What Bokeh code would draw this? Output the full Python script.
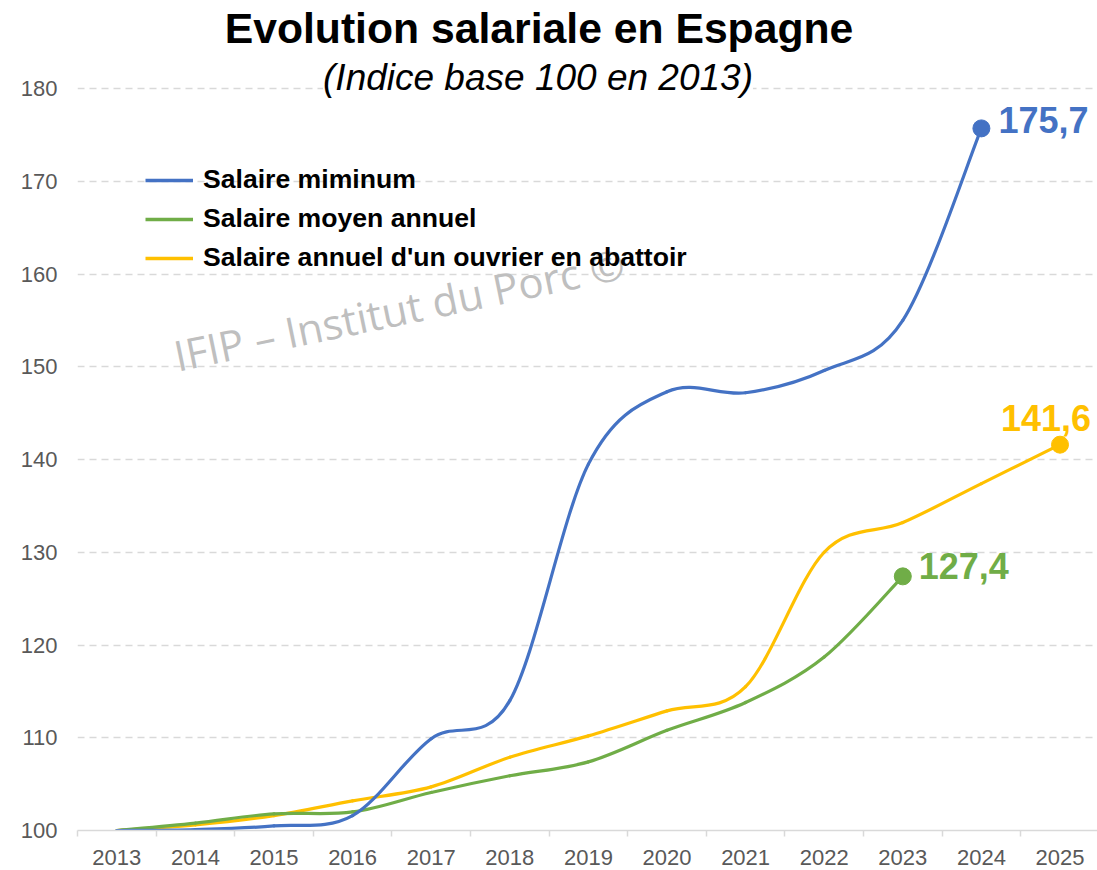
from bokeh.plotting import figure
from bokeh.models import Range1d, FixedTicker, Label, Legend, LegendItem
from bokeh.embed import file_html
from bokeh.resources import INLINE
from bokeh.core.properties import value

# ---------------- data ----------------
years = ["2013", "2014", "2015", "2016", "2017", "2018", "2019",
         "2020", "2021", "2022", "2023", "2024", "2025"]
salaire_minimum = [100.0, 100.1, 100.5, 101.6, 109.9, 114.0, 139.5,
                   147.3, 147.2, 149.6, 155.0, 175.7]
salaire_moyen = [100.0, 100.8, 101.8, 102.0, 104.1, 105.9, 107.4,
                 110.8, 113.8, 118.7, 127.4]
salaire_abattoir = [100.0, 100.6, 101.6, 103.2, 104.7, 107.9, 110.2,
                    112.9, 115.5, 130.0, 133.2, 137.4, 141.6]
series_names = ["Salaire miminum", "Salaire moyen annuel",
                "Salaire annuel d'un ouvrier en abattoir"]
series_colors = ["#4472C4", "#70AD47", "#FFC000"]
end_labels = ["175,7", "127,4", "141,6"]
y_ticks = [100, 110, 120, 130, 140, 150, 160, 170, 180]

FONT = "Liberation Sans"

# ---------------- layout ----------------
LEFT = 77
FRAME_W, FRAME_H = 1020, 830
PX_PER_CAT = 78.6
PX_PER_UNIT = 9.275
x_start = -0.5
x_end = x_start + FRAME_W / PX_PER_CAT
y_start = 100.0
y_end = y_start + FRAME_H / PX_PER_UNIT

p = figure(frame_width=FRAME_W, frame_height=FRAME_H,
           x_range=Range1d(x_start, x_end), y_range=Range1d(y_start, y_end),
           output_backend="svg", toolbar_location=None,
           min_border=0, min_border_left=LEFT, min_border_right=0,
           min_border_top=0, min_border_bottom=40,
           background_fill_color="white", border_fill_color="white")
p.outline_line_color = None


def px_x(px):  # page px -> x data (annotation placement only)
    return x_start + (px - LEFT) / PX_PER_CAT


def px_y(py):  # page px -> y data (annotation placement only)
    return y_start + (FRAME_H - py) / PX_PER_UNIT


# axes
xs_idx = list(range(len(years)))
p.xaxis.ticker = FixedTicker(ticks=xs_idx,
                             minor_ticks=[i - 0.5 for i in range(len(years) + 1)])
p.xaxis.major_label_overrides = {i: y for i, y in enumerate(years)}
p.xaxis.axis_line_color = "#D9D9D9"
p.xaxis.axis_line_width = 1.5
p.xaxis.major_tick_line_color = None
p.xaxis.major_tick_out = 0
p.xaxis.major_tick_in = 0
p.xaxis.minor_tick_line_color = "#D9D9D9"
p.xaxis.minor_tick_line_width = 1.5
p.xaxis.minor_tick_out = 6
p.xaxis.minor_tick_in = 0
p.xaxis.major_label_standoff = 13
p.xaxis.major_label_text_font = FONT
p.xaxis.major_label_text_font_size = "22px"
p.xaxis.major_label_text_color = "#595959"

p.yaxis.ticker = FixedTicker(ticks=y_ticks)
p.yaxis.axis_line_color = None
p.yaxis.major_tick_line_color = None
p.yaxis.minor_tick_line_color = None
p.yaxis.major_tick_out = 0
p.yaxis.major_tick_in = 0
p.yaxis.major_label_standoff = 20
p.yaxis.major_label_text_font = FONT
p.yaxis.major_label_text_font_size = "22px"
p.yaxis.major_label_text_color = "#595959"

p.xgrid.grid_line_color = None
p.ygrid.grid_line_color = "#D9D9D9"
p.ygrid.grid_line_width = 1.5
p.ygrid.grid_line_dash = "7 5"


def bezier_segments(xs, ys):
    n = len(xs)
    seg = dict(x0=[], y0=[], x1=[], y1=[], cx0=[], cy0=[], cx1=[], cy1=[])
    for i in range(n - 1):
        xm, ym = (xs[i - 1], ys[i - 1]) if i > 0 else (xs[i], ys[i])
        xp, yp = (xs[i + 2], ys[i + 2]) if i + 2 < n else (xs[i + 1], ys[i + 1])
        seg["x0"].append(xs[i]); seg["y0"].append(ys[i])
        seg["x1"].append(xs[i + 1]); seg["y1"].append(ys[i + 1])
        seg["cx0"].append(xs[i] + (xs[i + 1] - xm) / 6.0)
        seg["cy0"].append(ys[i] + (ys[i + 1] - ym) / 6.0)
        seg["cx1"].append(xs[i + 1] - (xp - xs[i]) / 6.0)
        seg["cy1"].append(ys[i + 1] - (yp - ys[i]) / 6.0)
    return seg


all_series = [salaire_minimum, salaire_moyen, salaire_abattoir]
for k in [2, 1, 0]:
    vals = all_series[k]
    xs = list(range(len(vals)))
    seg = bezier_segments(xs, vals)
    p.bezier(x0=seg["x0"], y0=seg["y0"], x1=seg["x1"], y1=seg["y1"],
             cx0=seg["cx0"], cy0=seg["cy0"], cx1=seg["cx1"], cy1=seg["cy1"],
             line_color=series_colors[k], line_width=3.2, line_cap="round")
    p.scatter(x=[xs[-1]], y=[vals[-1]], size=17, fill_color=series_colors[k],
              line_color=series_colors[k])

# end labels
lab_specs = {
    0: dict(x_offset=17, y_offset=-8, text_align="left"),
    1: dict(x_offset=16, y_offset=-10, text_align="left"),
    2: dict(x_offset=-14, y_offset=-27, text_align="center"),
}
for k in range(3):
    vals = all_series[k]
    p.text(x=[len(vals) - 1], y=[vals[-1]], text=[end_labels[k]],
           text_font=value(FONT), text_font_style="bold", text_font_size="36px",
           text_color=series_colors[k], text_baseline="middle", **lab_specs[k])

# legend (sample renderers, no visible data)
legend_items = []
for k in range(3):
    r = p.line(x=[float("nan")], y=[float("nan")], line_color=series_colors[k],
               line_width=3.5)
    legend_items.append(LegendItem(label=series_names[k], renderers=[r]))

legend = Legend(items=legend_items, location=(68, 557),
                label_text_font=FONT, label_text_font_style="bold",
                label_text_font_size="26.6px", label_text_color="black",
                glyph_width=48, glyph_height=30, label_standoff=10,
                label_height=30, spacing=8, padding=0, margin=0,
                border_line_color=None, background_fill_alpha=0)
p.add_layout(legend)

# watermark (drawn over the legend, as in the original)
p.add_layout(Label(x=px_x(174), y=px_y(355), text="IFIP \u2013 Institut du Porc \u00a9",
                   text_font="Open Sans", text_font_size="42px",
                   text_color="#BFBFBF", angle=0.205, text_align="left",
                   text_baseline="middle"))

# title and subtitle
p.add_layout(Label(x=px_x(538.5), y=px_y(27), text="Evolution salariale en Espagne",
                   text_font=FONT, text_font_style="bold", text_font_size="42.7px",
                   text_color="black", text_align="center",
                   text_baseline="middle"))
p.add_layout(Label(x=px_x(537.5), y=px_y(77), text="(Indice base 100 en 2013)",
                   text_font=FONT, text_font_style="italic", text_font_size="37px",
                   text_color="black", text_align="center",
                   text_baseline="middle", background_fill_color="white"))

open("out.html", "w").write(file_html(p, INLINE))
